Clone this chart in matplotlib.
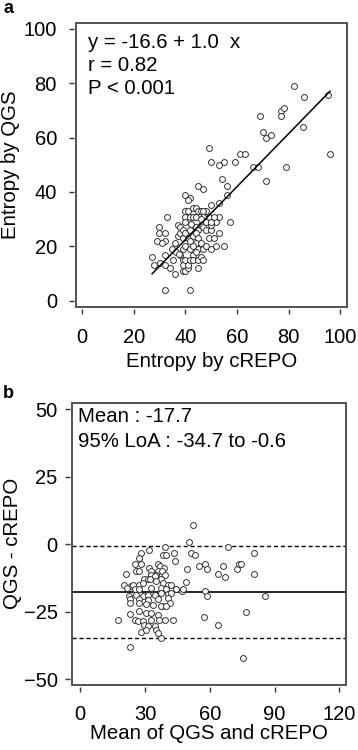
"""
Entropy agreement: QGS vs cREPO.
Panel a: scatter with regression line, panel b: Bland-Altman plot.
"""
import numpy as np
import matplotlib
matplotlib.use("Agg")
import matplotlib.pyplot as plt
from matplotlib.patches import Rectangle

plt.rcParams['font.family'] = ['Liberation Sans', 'DejaVu Sans']

# --- panel a data (entropy by cREPO, entropy by QGS) ---
crepo = [82.2, 86.1, 95.2, 77.2, 78.1, 77.2, 69.0, 70.1, 71.1, 73.2, 85.6, 96.1,
         61.0, 63.2, 59.1, 55.1, 53.2, 50.1, 49.0, 66.1, 68.1, 79.1, 71.1, 54.1,
         45.0, 47.0, 56.1, 56.1, 40.0, 41.9, 41.0, 53.2, 50.1, 32.9, 53.2, 57.2,
         27.1, 28.0, 29.9, 29.9, 29.0, 32.0, 32.0, 31.1, 30.1, 32.0, 32.0, 32.0,
         34.1, 35.1, 35.0, 36.1, 36.1, 37.0, 38.1, 37.0, 38.1, 39.0, 39.0, 39.0,
         38.1, 39.0, 39.1, 39.0, 40.0, 41.0, 40.0, 41.0, 40.0, 41.0, 40.0, 40.0,
         40.0, 40.0, 41.0, 41.9, 43.0, 43.0, 41.9, 43.0, 41.9, 41.9, 43.0, 41.9,
         43.0, 41.9, 44.0, 45.0, 44.0, 44.0, 45.0, 44.0, 45.0, 44.0, 45.0, 44.0,
         45.9, 47.0, 45.9, 45.9, 47.0, 45.9, 47.0, 45.0, 45.9, 45.0, 47.0, 48.0,
         49.0, 48.0, 48.0, 49.0, 50.1, 50.1, 48.0, 50.1, 51.1, 52.0, 52.0, 53.2,
         55.1, 50.1, 51.1, 46.9, 43.0, 42.0, 36.5, 37.5]
qgs = [78.9, 75.0, 75.8, 69.8, 70.9, 68.0, 68.0, 62.0, 60.0, 60.9, 63.9, 54.0,
       54.0, 54.0, 50.9, 50.9, 49.9, 50.9, 56.0, 49.0, 49.0, 49.0, 43.9, 44.9,
       42.0, 41.0, 42.0, 38.9, 38.9, 37.9, 36.9, 36.0, 35.0, 30.9, 30.9, 29.0,
       16.0, 13.0, 26.9, 24.9, 22.0, 24.9, 22.0, 21.0, 13.9, 16.9, 13.0, 3.9,
       11.9, 15.0, 19.0, 21.0, 9.9, 23.9, 24.9, 27.9, 26.9, 25.9, 22.9, 19.0,
       16.9, 15.0, 13.0, 11.0, 11.0, 11.9, 15.0, 13.0, 32.9, 32.9, 30.9, 29.0,
       24.9, 20.0, 22.9, 30.9, 33.9, 30.9, 25.9, 23.9, 22.0, 19.0, 16.9, 15.0,
       15.0, 3.9, 33.9, 32.9, 30.9, 26.9, 25.9, 24.9, 22.9, 21.0, 19.0, 18.0,
       32.9, 30.9, 29.9, 27.9, 26.9, 21.0, 19.0, 15.0, 16.0, 11.9, 15.0, 32.9,
       30.9, 29.0, 25.9, 22.9, 25.9, 27.9, 20.0, 19.0, 22.9, 29.0, 20.0, 24.9,
       20.0, 29.0, 30.9, 32.9, 20.0, 28.0, 18.0, 17.0]

# regression line as drawn in the figure
fit_intercept = -16.6
fit_slope = 0.975

# --- panel b data (mean of both, QGS - cREPO) ---
ba_mean = [52.4, 50.5, 68.7, 39.5, 31.9, 51.3, 53.2, 38.4, 40.0, 43.4, 44.0, 28.3,
           80.7, 49.4, 55.0, 57.7, 58.8, 66.1, 63.7, 67.1, 72.6, 73.4, 74.5, 80.7,
           48.9, 57.7, 58.6, 47.3, 85.8, 57.5, 76.6, 64.0, 75.2, 22.9, 17.7, 37.3,
           42.8, 27.2, 25.2, 28.3, 21.3, 26.0, 27.2, 31.9, 32.9, 36.1, 36.8, 38.7,
           36.1, 38.1, 39.2, 35.3, 32.9, 29.8, 31.4, 37.6, 20.2, 23.6, 24.4, 27.5,
           29.1, 32.2, 34.5, 35.3, 38.4, 40.7, 42.3, 33.0, 37.6, 39.9, 44.6, 21.8,
           25.2, 27.5, 22.5, 26.0, 29.1, 31.4, 34.5, 37.6, 40.7, 42.3, 22.9, 27.5,
           31.4, 36.1, 40.7, 22.9, 27.5, 30.6, 33.7, 38.1, 41.5, 37.6, 39.9, 22.9,
           27.5, 30.6, 32.6, 36.1, 25.2, 26.7, 29.1, 32.6, 36.5, 39.2, 29.8, 31.4,
           34.5, 28.3, 30.6, 35.3, 36.1, 47.7]
ba_diff = [6.9, 0.9, -1.1, -1.1, -2.1, -3.2, -4.2, -4.2, -4.2, -3.2, -6.1, -3.2,
           -3.2, -9.2, -8.2, -7.2, -9.2, -8.2, -11.1, -12.1, -9.2, -7.2, -7.2, -11.1,
           -14.2, -17.2, -19.2, -17.2, -19.2, -27.1, -25.1, -30.1, -42.1, -38.1, -28.1, -34.8,
           -28.1, -5.1, -7.2, -7.2, -11.1, -10.0, -10.0, -8.8, -10.0, -7.2, -8.2, -8.8,
           -10.0, -10.0, -11.3, -11.3, -11.3, -12.9, -12.9, -12.9, -15.1, -15.6, -15.1, -15.1,
           -14.4, -12.9, -11.9, -13.7, -14.4, -15.1, -15.1, -16.2, -16.2, -16.8, -16.8, -16.2,
           -16.6, -16.6, -19.1, -18.7, -19.1, -18.7, -18.7, -18.1, -18.4, -18.1, -20.5, -20.5,
           -20.8, -20.3, -20.0, -22.0, -21.8, -22.2, -22.4, -22.8, -22.0, -23.0, -23.0, -25.9,
           -24.9, -25.5, -25.5, -26.1, -28.0, -28.6, -28.6, -28.0, -28.0, -28.0, -29.8, -30.4,
           -30.4, -32.7, -31.9, -31.9, -32.9, -16.8]
mean_diff = -17.7
loa_low = -34.7
loa_high = -0.6

EDGE = '#333333'
FS = 14.7      # labels and annotations
TFS = 14.5     # tick labels


def style_axes(ax, xpad, ypad):
    # R-like look: box around the plot, ticks detached from it
    for side in ['left', 'bottom', 'top', 'right']:
        ax.spines[side].set_visible(False)
    ax.spines['left'].set_position(('outward', 1.5))
    ax.spines['bottom'].set_position(('outward', 1.5))
    ax.add_patch(Rectangle((0, 0), 1, 1, transform=ax.transAxes, fill=False,
                           lw=1.3, ec='#444444', clip_on=False, zorder=5))
    ax.tick_params(length=3.6, width=1, color='#333333', labelsize=TFS)
    ax.tick_params(axis='x', pad=xpad)
    ax.tick_params(axis='y', pad=ypad)


fig = plt.figure(figsize=(3.58, 7.5), dpi=100)

# panel a
ax1 = fig.add_axes([0.2115, 0.591, 0.7587, 0.3787])
style_axes(ax1, xpad=10.5, ypad=8.4)
ax1.scatter(crepo, qgs, s=18, facecolors='white', edgecolors=EDGE, linewidths=0.7, zorder=3)
fx = np.array([min(crepo), max(crepo)])
ax1.plot(fx, fit_intercept + fit_slope * fx, color='black', lw=1.1, zorder=4)
ax1.set_xlim(-2.5, 102.8)
ax1.set_ylim(-2.3, 102.3)
ax1.set_xticks([0, 20, 40, 60, 80, 100])
ax1.set_yticks([0, 20, 40, 60, 80, 100])
ax1.set_xlabel('Entropy by cREPO', fontsize=FS, labelpad=3)
ax1.set_ylabel('Entropy by QGS', fontsize=FS, labelpad=2.5)
ax1.text(0.046, 0.91, 'y = -16.6 + 1.0  x', transform=ax1.transAxes, fontsize=FS, va='baseline')
ax1.text(0.046, 0.83, 'r = 0.82', transform=ax1.transAxes, fontsize=FS, va='baseline')
ax1.text(0.046, 0.748, 'P < 0.001', transform=ax1.transAxes, fontsize=FS, va='baseline')

# panel b
ax2 = fig.add_axes([0.202, 0.0867, 0.7645, 0.3764])
style_axes(ax2, xpad=9.0, ypad=5.4)
ax2.scatter(ba_mean, ba_diff, s=18, facecolors='white', edgecolors=EDGE, linewidths=0.7, zorder=3)
ax2.axhline(mean_diff, color='black', lw=1.2, zorder=2)
ax2.axhline(loa_high, color='black', lw=1.0, ls=(0, (3, 2)), zorder=2)
ax2.axhline(loa_low, color='black', lw=1.0, ls=(0, (3, 2)), zorder=2)
ax2.set_xlim(-3.6, 123.1)
ax2.set_ylim(-52.2, 52.4)
ax2.set_xticks([0, 30, 60, 90, 120])
ax2.set_yticks([-50, -25, 0, 25, 50])
ax2.set_xlabel('Mean of QGS and cREPO', fontsize=FS, labelpad=0.5)
ax2.set_ylabel('QGS - cREPO', fontsize=FS, labelpad=1.5)
ax2.text(0.022, 0.93, 'Mean : -17.7', transform=ax2.transAxes, fontsize=FS, va='baseline')
ax2.text(0.022, 0.844, '95% LoA : -34.7 to -0.6', transform=ax2.transAxes, fontsize=FS, va='baseline')

# panel letters
fig.text(3 / 358, 1 - 13 / 750, 'a', fontsize=13, fontweight='bold', va='baseline')
fig.text(3 / 358, 1 - 398 / 750, 'b', fontsize=13, fontweight='bold', va='baseline')

fig.savefig('out.png', dpi=100)
